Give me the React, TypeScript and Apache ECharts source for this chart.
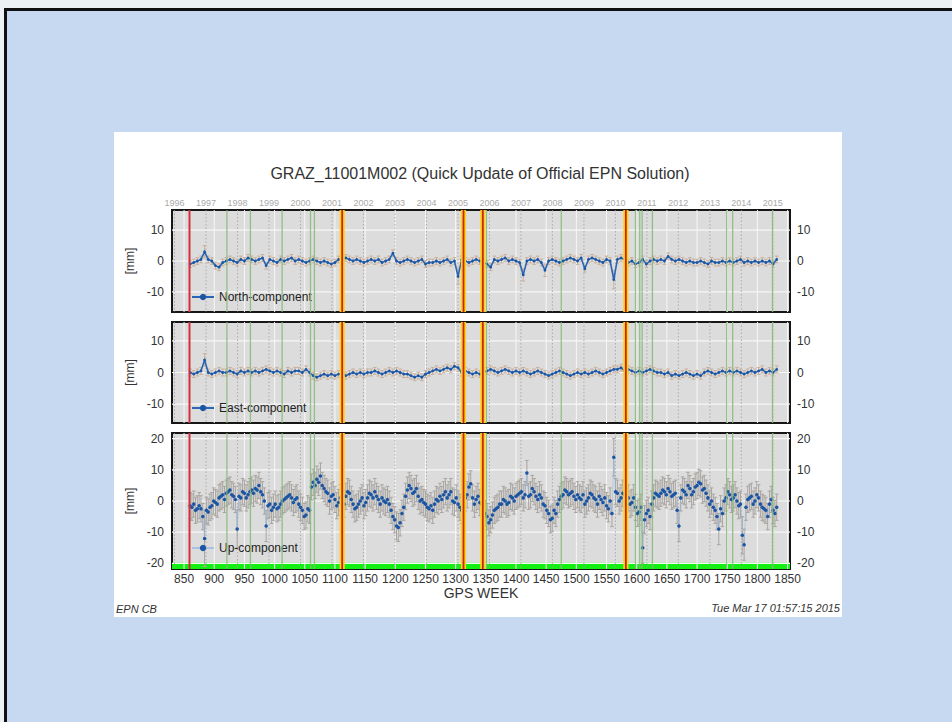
import React, { useEffect, useRef } from "react";
import * as echarts from "echarts";

const FONT = "'Liberation Sans', Arial, Helvetica, sans-serif";

// GPS weeks sampled
const WEEKS = [
  860, 866, 872, 878, 884, 890, 896, 902, 908, 914,
  920, 926, 932, 938, 944, 950, 956, 962, 968, 974,
  980, 986, 992, 998, 1004, 1010, 1016, 1022, 1028, 1034,
  1040, 1046, 1052, 1058, 1064, 1070, 1076, 1082, 1088, 1094,
  1100, 1106, 1112, 1118, 1124, 1130, 1136, 1142, 1148, 1154,
  1160, 1166, 1172, 1178, 1184, 1190, 1196, 1202, 1208, 1214,
  1220, 1226, 1232, 1238, 1244, 1250, 1256, 1262, 1268, 1274,
  1280, 1286, 1292, 1298, 1304, 1310, 1316, 1322, 1328, 1334,
  1340, 1346, 1352, 1358, 1364, 1370, 1376, 1382, 1388, 1394,
  1400, 1406, 1412, 1418, 1424, 1430, 1436, 1442, 1448, 1454,
  1460, 1466, 1472, 1478, 1484, 1490, 1496, 1502, 1508, 1514,
  1520, 1526, 1532, 1538, 1544, 1550, 1556, 1562, 1568, 1574,
  1580, 1586, 1592, 1598, 1604, 1610, 1616, 1622, 1628, 1634,
  1640, 1646, 1652, 1658, 1664, 1670, 1676, 1682, 1688, 1694,
  1700, 1706, 1712, 1718, 1724, 1730, 1736, 1742, 1748, 1754,
  1760, 1766, 1772, 1778, 1784, 1790, 1796, 1802, 1808, 1814,
  1820, 1826, 1832,
];

const NORTH = [
  -1, -0.5, 0, 0.5, 3, 0.5, 0, -1.5, -2, -0.5,
  0, 0.5, 0, -0.5, 0.5, 0, 1, 0.5, 0, 0.5,
  1, -1.5, 0.5, 0, -0.5, 0.5, 0, 0.5, 1, 0,
  0.5, 0, -0.5, 0, 0.5, 0, -0.5, 0, -0.5, -1,
  -0.5, 0.5, 0.5, 1, 0.5, 0, 0.5, 0, -0.5, 0,
  0.5, 0, 0.5, -0.5, 0, 0.5, 2.5, 0, -0.5, 0,
  0.5, 0, -0.5, 0, 0.5, -1, -0.5, -0.5, 0, -0.5,
  0, 0.5, -0.5, 0, -5, 0.5, 0, -0.5, 0, 0.5,
  0, -0.5, -1, -2, 0.5, 0, 0.5, 1, 0, 0.5,
  0, -0.5, -4.5, 0, 0.5, 0, 0.5, -0.5, -3, 0,
  0.5, 0, -0.5, 0, 0.5, 1, 0.5, 0, 1, -2.5,
  0.5, 1, 0.5, 0, -0.5, 0.5, 0, -6, 0.5, 1,
  0.5, -0.5, 0, -1, -0.5, 0.5, -1, 0, 0.5, 0,
  0.5, 0, 1.5, 0.5, 0, 0.5, 0, -0.5, 0, -0.5,
  -0.5, 0, -0.5, -1, 0, -0.5, -0.5, 0, -0.5, 0,
  -0.5, 0, 0.5, -0.5, 0, -0.5, 0, -0.5, 0, -0.5,
  0, -1, 0.5,
];

const EAST = [
  0, -0.5, 0, 0.5, 4, 0, -0.5, 0, 0.5, 0,
  0, 0.5, 0, -0.5, 0.5, 0, 0.5, 0, 0.5, 0,
  0.5, 1, 0.5, 0, 0.5, 0, -0.5, 0.5, 0, 0.5,
  0.5, 0, 1, 0, -1, -1.5, -1, -0.5, -1, -0.5,
  -1, -0.5, -0.5, -1, -0.5, 0, -0.5, 0, -0.5, 0,
  0, 0.5, 0, -0.5, 0, 0.5, 0, 0.5, 0, -0.5,
  -0.5, -1, -1.5, -1, -1.5, -0.5, 0, 0.5, 1, 0.5,
  1, 1.5, 1, 2, 1.5, 0, 0.5, 0, -0.5, 0,
  -0.5, 0, 0.5, 1, 0.5, 0, 0.5, 1, 0.5, 0,
  0.5, 0, 0.5, 0, -0.5, 0, 0.5, 0, -0.5, -1,
  -0.5, 0, 0.5, 0, -0.5, -1, -0.5, 0, -0.5, 0,
  -0.5, 0, 0.5, 0, -0.5, 0, 0.5, 1, 1, 1.5,
  0.5, 1, 0.5, 0, 0.5, 0, 0.5, 1, 0.5, 0,
  0, -0.5, 0, -1, -0.5, -1, -0.5, 0, -0.5, -1,
  -0.5, -1, 0, 0.5, 0, -0.5, 0, 0.5, 0, 0.5,
  0, 0.5, 0, -0.5, 0, 0.5, 0, 0.5, 1, 0,
  0.5, 0, 1,
];

const UP = [
  -1.5, -1, -2.5, -2.5, -12, -3.5, -1.5, -0.5, 1, 2,
  2.5, 3.5, 1.5, -9, 1, 2.5, 2, 3.5, 4, 5,
  2, -8, -1, -2, -2.5, -1, 0.5, 1.5, 1, 0.5,
  -1, -3, -4.5, -3, 6, 7, 8, 4, 2.5, 1.5,
  0.5, -0.5, 0, 1.5, 2.5, -1, -2, 0, -1.5, 1,
  2, 3, 0.5, 1, -0.5, -1, -5, -8, -7, -2,
  3.5, 4, 3, 1.5, 0.5, -1, -2.5, -3, 0.5, 1.5,
  2, 1, 3, -0.5, -1, -3, 1, 4.5, 1, 0.5,
  -0.5, -2, -5, -6, -3, -2, -1, 0, -0.5, 1,
  1.5, 2.5, 1, 9, 2, 3, 0.5, 1, -1.5, -4,
  -5.5, -4, 0.5, 2, 3, 2.5, 1.5, 2, 0.5, -1,
  1, 2, 0.5, 1.5, -0.5, -1.5, 0, 14, 2.5, 1,
  2, 1, -0.5, -2, -3.5, -15, -4, -5, 1, 2,
  2.5, 3, 4, 1.5, 2.5, -8, 3.5, 2, 4, 3,
  5, 5.5, 4, 1, 0, -3, -9, -4, 1, 2,
  1, 0, -1, -14, 0.5, 1.5, 0, 1, -2, -3,
  -1, -3, -2,
];

// Up-component, in-between weeks
const UP_B_WEEKS = [
  863, 869, 875, 881, 887, 893, 899, 905, 911, 917,
  923, 929, 935, 941, 947, 953, 959, 965, 971, 977,
  983, 989, 995, 1001, 1007, 1013, 1019, 1025, 1031, 1037,
  1043, 1049, 1055, 1061, 1067, 1073, 1079, 1085, 1091, 1097,
  1103, 1109, 1115, 1121, 1127, 1133, 1139, 1145, 1151, 1157,
  1163, 1169, 1175, 1181, 1187, 1193, 1199, 1205, 1211, 1217,
  1223, 1229, 1235, 1241, 1247, 1253, 1259, 1265, 1271, 1277,
  1283, 1289, 1295, 1301, 1307, 1313, 1319, 1325, 1331, 1337,
  1343, 1349, 1355, 1361, 1367, 1373, 1379, 1385, 1391, 1397,
  1403, 1409, 1415, 1421, 1427, 1433, 1439, 1445, 1451, 1457,
  1463, 1469, 1475, 1481, 1487, 1493, 1499, 1505, 1511, 1517,
  1523, 1529, 1535, 1541, 1547, 1553, 1559, 1565, 1571, 1577,
  1583, 1589, 1595, 1601, 1607, 1613, 1619, 1625, 1631, 1637,
  1643, 1649, 1655, 1661, 1667, 1673, 1679, 1685, 1691, 1697,
  1703, 1709, 1715, 1721, 1727, 1733, 1739, 1745, 1751, 1757,
  1763, 1769, 1775, 1781, 1787, 1793, 1799, 1805, 1811, 1817,
  1823, 1829,
];
const UP_B = [
  -2, -3, -1.5, -5, -3, -2, 0, -1, 1.5, 0.5,
  3, 2, 0.5, 1.5, 3, 1, 3, 2.5, 3.5, 3,
  0, -1.5, -3, -1, -2, 0, 1, 2, -0.5, 1,
  -2, -5, -2.5, 4.5, 5, 6, 5, 3, 0, 2,
  -1.5, 1, -1, 3, 0.5, -2.5, -1, 1, -0.5, 2.5,
  1, 1.5, -1, 0, 0.5, -3, -6, -8.5, -4, 1.5,
  5, 2.5, 4, 0, -0.5, -2, -1.5, -1, 0, 0.5,
  3, 2, 0, 1, -2, 0.5, 2, 5.5, -1, 1.5,
  -1, -4, -7, -4.5, -2.5, -1, 0.5, -1, 1.5, 0,
  2, 3, 2, 1.5, 4, 1.5, 2, -1, -3, -6,
  -3, -1, 1.5, 3.5, 2, 3, 0.5, 1, 2, 0,
  2.5, 1, -1, 0.5, 1, -2.5, -4, 3, 0, 2.5,
  0.5, -1, 1, -4, -2, -6, -3, -1, 2.5, 1.5,
  3.5, 2, 3, 2, -3, 1, 3, 5, 2, 4.5,
  6, 3.5, 2.5, -1, -2, -5, -2.5, 0, 3, 0.5,
  2, -1.5, -11, -2, 1, -1, 2, -1, -2.5, -5,
  0.5, -4,
];

// typical formal errors (mm) and larger ones at outliers [week, err]
const N_ERR = 1.1;
const E_ERR = 1.1;
const U_ERR = 4.2;
const N_BIG_ERR: [number, number][] = [[884, 2], [1304, 2.5], [1412, 2], [1448, 2], [1562, 3]];
const E_BIG_ERR: [number, number][] = [[884, 2]];
const U_BIG_ERR: [number, number][] = [[884, 9], [938, 6], [986, 5], [1202, 4.5], [1205, 4.5], [1418, 4], [1562, 6], [1610, 5], [1613, 4.5], [1670, 5], [1736, 5], [1775, 6], [1778, 5]];

const X_MIN = 830;
const X_MAX = 1854;
const X_TICKS = [850, 900, 950, 1000, 1050, 1100, 1150, 1200, 1250, 1300, 1350, 1400, 1450, 1500, 1550, 1600, 1650, 1700, 1750, 1800, 1850];
const YEAR_LABELS = ["1996", "1997", "1998", "1999", "2000", "2001", "2002", "2003", "2004", "2005", "2006", "2007", "2008", "2009", "2010", "2011", "2012", "2013", "2014", "2015"];
const YEAR_WEEKS = [834.1, 886.4, 938.6, 990.7, 1042.9, 1095.1, 1147.3, 1199.4, 1251.6, 1303.9, 1356.0, 1408.1, 1460.3, 1512.6, 1564.7, 1616.9, 1669.0, 1721.3, 1773.4, 1825.6];
const RED_EVENTS = [859];
const ORANGE_EVENTS = [1112, 1313, 1345, 1582];
const GREEN_EVENTS = [921, 960, 1012.5, 1059.5, 1066, 1351, 1475, 1598, 1605, 1609, 1626, 1749, 1759, 1825];
const NE_TICKS = [-10, 0, 10];
const UP_TICKS = [-20, -10, 0, 10, 20];
const UP_AVAIL_BAND = [-19.8, -21.8];

const TITLE = "GRAZ_11001M002 (Quick Update of Official EPN Solution)";
const FOOT_LEFT = "EPN CB";
const FOOT_RIGHT = "Tue Mar 17 01:57:15 2015";

const UP_PAIRS = [
  ...WEEKS.map((w, i) => [w, UP[i]]),
  ...UP_B_WEEKS.map((w, i) => [w, UP_B[i]]),
].sort((a, b) => a[0] - b[0]);

const PANELS = [
  { name: "North-component", pairs: WEEKS.map((w, i) => [w, NORTH[i]]), err: N_ERR, big: N_BIG_ERR, yMin: -16.5, yMax: 16.5, ticks: NE_TICKS, top: 210, height: 102, legendTop: 291, errColor: "#c9b09c" },
  { name: "East-component", pairs: WEEKS.map((w, i) => [w, EAST[i]]), err: E_ERR, big: E_BIG_ERR, yMin: -16, yMax: 16, ticks: NE_TICKS, top: 322, height: 101, legendTop: 402, errColor: "#c9b09c" },
  { name: "Up-component", pairs: UP_PAIRS, err: U_ERR, big: U_BIG_ERR, yMin: -21.8, yMax: 21.8, ticks: UP_TICKS, top: 433, height: 136, legendTop: 542, errColor: "#a9a5a1" },
];

function errOf(week: number, base: number, big: [number, number][]) {
  const f = big.find((b) => b[0] === week);
  return f ? f[1] : base;
}

function vlineSeries(gi: number, xs: number[], style: any, z: number) {
  return {
    type: "custom",
    xAxisIndex: gi,
    yAxisIndex: gi * 2,
    silent: true,
    clip: true,
    z,
    data: xs.map((x) => [x, 0]),
    renderItem: (params: any, api: any) => {
      const x = api.coord([api.value(0), 0])[0];
      const cs = params.coordSys;
      return { type: "line", shape: { x1: x, y1: cs.y, x2: x, y2: cs.y + cs.height }, style };
    },
  };
}

function orangeSeries(gi: number, xs: number[], z: number) {
  return {
    type: "custom",
    xAxisIndex: gi,
    yAxisIndex: gi * 2,
    silent: true,
    clip: true,
    z,
    data: xs.map((x) => [x, 0]),
    renderItem: (params: any, api: any) => {
      const x = api.coord([api.value(0), 0])[0];
      const cs = params.coordSys;
      return {
        type: "group",
        children: [
          { type: "rect", shape: { x: x - 2.6, y: cs.y, width: 5.2, height: cs.height }, style: { fill: "#ffd21a" } },
          { type: "line", shape: { x1: x, y1: cs.y, x2: x, y2: cs.y + cs.height }, style: { stroke: "#c8260f", lineWidth: 1.8 } },
        ],
      };
    },
  };
}

function hlineSeries(gi: number, ys: number[], z: number) {
  return {
    type: "custom",
    xAxisIndex: gi,
    yAxisIndex: gi * 2,
    silent: true,
    clip: true,
    z,
    data: ys.map((y) => [X_MIN + 10, y]),
    renderItem: (params: any, api: any) => {
      const y = api.coord([api.value(0), api.value(1)])[1];
      const cs = params.coordSys;
      return { type: "line", shape: { x1: cs.x, y1: y, x2: cs.x + cs.width, y2: y }, style: { stroke: "#f7f7f7", lineWidth: 1.2 } };
    },
  };
}

function errSeries(gi: number, p: any) {
  const c = p.errColor;
  return {
    type: "custom",
    xAxisIndex: gi,
    yAxisIndex: gi * 2,
    silent: true,
    clip: true,
    z: 3,
    data: p.pairs.map((pr: number[]) => [pr[0], pr[1], errOf(pr[0], p.err, p.big)]),
    renderItem: (params: any, api: any) => {
      const w = api.value(0);
      const v = api.value(1);
      const e = api.value(2);
      const hi = api.coord([w, v + e]);
      const lo = api.coord([w, v - e]);
      const x = hi[0];
      const st = { stroke: c, lineWidth: 1 };
      return {
        type: "group",
        children: [
          { type: "line", shape: { x1: x, y1: hi[1], x2: x, y2: lo[1] }, style: st },
          { type: "line", shape: { x1: x - 1.8, y1: hi[1], x2: x + 1.8, y2: hi[1] }, style: st },
          { type: "line", shape: { x1: x - 1.8, y1: lo[1], x2: x + 1.8, y2: lo[1] }, style: st },
        ],
      };
    },
  };
}

export default function App() {
  const ref = useRef<HTMLDivElement>(null);

  useEffect(() => {
    if (!ref.current) return;
    const chart = echarts.init(ref.current, undefined, { renderer: "svg" });

    const grids = PANELS.map((p) => ({
      left: 172,
      top: p.top,
      width: 618,
      height: p.height,
      show: true,
      backgroundColor: "#dcdcdc",
      borderColor: "#161616",
      borderWidth: 2,
      containLabel: false,
    }));

    const xAxes: any[] = PANELS.map((p, i) => ({
      type: "value",
      gridIndex: i,
      min: X_MIN,
      max: X_MAX,
      axisLine: { show: false },
      axisTick: { show: false },
      splitLine: { show: false },
      axisLabel:
        i === 2
          ? { show: true, customValues: X_TICKS, fontSize: 12, color: "#333", margin: 4, fontFamily: FONT, formatter: (v: number) => String(Math.round(v)) }
          : { show: false },
      name: i === 2 ? "GPS WEEK" : "",
      nameLocation: "middle",
      nameGap: 17,
      nameTextStyle: { fontSize: 14, color: "#333", fontFamily: FONT },
    }));
    xAxes.push({
      type: "value",
      gridIndex: 0,
      position: "top",
      min: X_MIN,
      max: X_MAX,
      axisLine: { show: false },
      axisTick: { show: false },
      splitLine: { show: false },
      axisLabel: {
        show: true,
        customValues: YEAR_WEEKS,
        fontSize: 9,
        color: "#a9a9a9",
        margin: 3,
        fontFamily: FONT,
        formatter: (v: number) => {
          let best = 0;
          YEAR_WEEKS.forEach((w, k) => {
            if (Math.abs(w - v) < Math.abs(YEAR_WEEKS[best] - v)) best = k;
          });
          return YEAR_LABELS[best];
        },
      },
    });

    const yAxes: any[] = [];
    PANELS.forEach((p, i) => {
      const base = {
        type: "value",
        gridIndex: i,
        min: p.yMin,
        max: p.yMax,
        axisLine: { show: false },
        axisTick: { show: false },
        splitLine: { show: false },
      };
      yAxes.push({
        ...base,
        position: "left",
        axisLabel: { customValues: p.ticks, fontSize: 12, color: "#333", margin: 8, fontFamily: FONT },
        name: "[mm]",
        nameLocation: "middle",
        nameRotate: 90,
        nameGap: 29,
        nameTextStyle: { fontSize: 12, color: "#333", fontFamily: FONT },
      });
      yAxes.push({
        ...base,
        position: "right",
        axisLabel: { customValues: p.ticks, fontSize: 12, color: "#333", margin: 7, fontFamily: FONT },
      });
    });

    const series: any[] = [];
    PANELS.forEach((p, i) => {
      series.push(hlineSeries(i, p.ticks, 1));
      series.push(vlineSeries(i, X_TICKS, { stroke: "#f7f7f7", lineWidth: 1 }, 1));
      series.push(vlineSeries(i, YEAR_WEEKS, { stroke: "#a0a0a0", lineWidth: 0.8, lineDash: [1.5, 2] }, 1));
      series.push(errSeries(i, p));
      const isUp = i === 2;
      series.push({
        type: "line",
        name: p.name,
        xAxisIndex: i,
        yAxisIndex: i * 2,
        data: p.pairs,
        symbol: "circle",
        symbolSize: isUp ? 3.5 : 2.8,
        showSymbol: true,
        itemStyle: { color: "#1c56a3" },
        lineStyle: { color: isUp ? "#8fb5e2" : "#2a66b4", width: isUp ? 0.7 : 1.6, opacity: isUp ? 0.7 : 1 },
        z: 4,
        clip: true,
        markArea: isUp
          ? {
              silent: true,
              itemStyle: { color: "#12f012", opacity: 1 },
              data: [[{ yAxis: UP_AVAIL_BAND[0] }, { yAxis: UP_AVAIL_BAND[1] }]],
            }
          : undefined,
      });
      series.push(vlineSeries(i, GREEN_EVENTS, { stroke: "#86b878", lineWidth: 1.3, opacity: 0.85 }, 5));
      series.push(vlineSeries(i, RED_EVENTS, { stroke: "#d3303d", lineWidth: 2 }, 6));
      series.push(orangeSeries(i, ORANGE_EVENTS, 6));
    });

    const legends = PANELS.map((p) => ({
      data: [p.name],
      left: 191,
      top: p.legendTop,
      padding: 0,
      itemWidth: 22,
      itemHeight: 8,
      itemGap: 0,
      selectedMode: false,
      textStyle: { fontSize: 12, color: "#222", fontFamily: FONT },
    }));

    chart.setOption({
      animation: false,
      textStyle: { fontFamily: FONT },
      grid: grids,
      xAxis: xAxes,
      yAxis: yAxes,
      legend: legends,
      series,
      graphic: [
        {
          type: "text",
          x: 480,
          y: 173,
          style: { text: TITLE, fontSize: 16, fill: "#333", align: "center", verticalAlign: "middle", fontFamily: FONT },
        },
        {
          type: "text",
          x: 116,
          y: 609,
          style: { text: FOOT_LEFT, fontSize: 11, fontStyle: "italic", fill: "#333", align: "left", verticalAlign: "middle", fontFamily: FONT },
        },
        {
          type: "text",
          x: 840,
          y: 608,
          style: { text: FOOT_RIGHT, fontSize: 11, fontStyle: "italic", fill: "#333", align: "right", verticalAlign: "middle", fontFamily: FONT },
        },
      ],
    });

    return () => chart.dispose();
  }, []);

  return (
    <div style={{ position: "fixed", left: 0, top: 0, width: 952, height: 722, background: "#eef1f4", overflow: "hidden" }}>
      <div
        style={{
          position: "absolute",
          left: 4,
          top: 8,
          width: 960,
          height: 730,
          background: "#c7d9f0",
          borderTop: "3px solid #111",
          borderLeft: "3px solid #111",
        }}
      />
      <div style={{ position: "absolute", left: 114, top: 132, width: 728, height: 485, background: "#ffffff" }} />
      <div ref={ref} style={{ position: "absolute", left: 0, top: 0, width: 952, height: 722 }} />
    </div>
  );
}
